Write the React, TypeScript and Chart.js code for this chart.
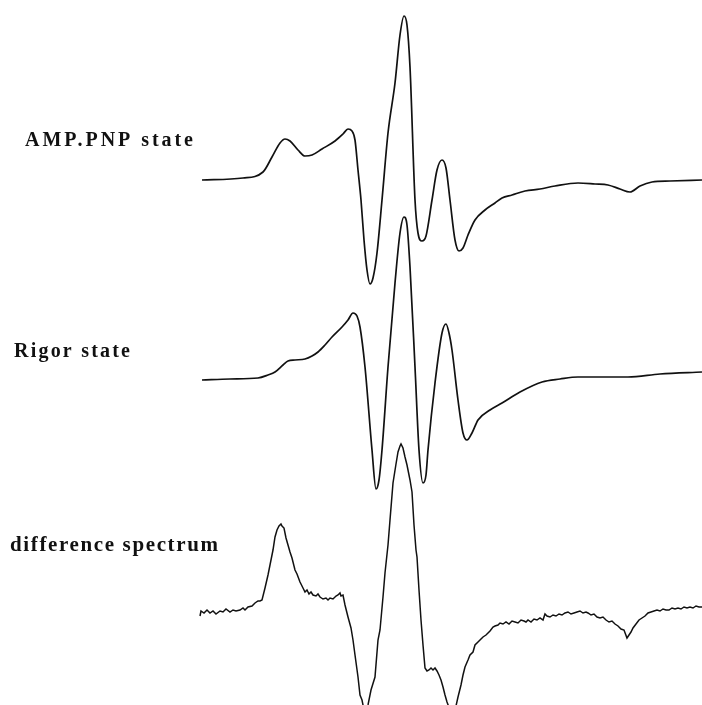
import React, { useEffect, useRef } from "react";
import { Chart, registerables } from "chart.js";

Chart.register(...registerables);

// Field positions (arbitrary field units) and signal amplitudes (arbitrary units, baseline = 0)
const ampField = [2, 43, 63, 72, 80, 85, 90, 98, 105, 112, 122, 135, 143, 148, 152, 155, 158, 161, 164, 167, 170, 173, 177, 182, 188, 195, 200, 204, 207, 210, 215, 218, 222, 226, 232, 237, 242, 246, 250, 255, 259, 263, 268, 275, 285, 295, 302, 312, 325, 340, 355, 378, 395, 408, 420, 430, 440, 452, 470, 502];
const ampSignal = [0, 2, 8, 23, 37, 41, 39, 30, 24, 25, 31, 39, 46, 51, 49, 40, 10, -20, -60, -90, -104, -98, -73, -20, 47, 97, 145, 164, 155, 113, -20, -53, -61, -56, -20, 10, 20, 12, -20, -60, -71, -68, -55, -40, -30, -23, -18, -15, -11, -9, -6, -3, -4, -5, -9, -12, -6, -2, -1, 0];

const rigorField = [2, 30, 58, 68, 75, 83, 88, 95, 105, 112, 118, 125, 132, 142, 148, 153, 157, 160, 165, 172, 176, 179, 182, 188, 195, 200, 204, 207, 210, 215, 219, 223, 226, 228, 235, 242, 246, 249, 252, 258, 263, 267, 272, 278, 290, 302, 320, 342, 360, 378, 400, 428, 460, 502];
const rigorSignal = [0, 1, 2, 5, 8, 15, 19, 20, 21, 24, 28, 35, 43, 53, 60, 67, 64, 53, 13, -70, -109, -100, -70, 13, 97, 147, 163, 155, 113, 13, -70, -103, -95, -70, -3, 47, 56, 47, 30, -20, -53, -60, -53, -40, -30, -23, -12, -2, 1, 3, 3, 3, 6, 8];

const diffField = [0, 1, 4, 7, 10, 13, 16, 20, 23, 26, 30, 33, 36, 40, 43, 45, 48, 52, 55, 58, 60, 62, 65, 68, 70, 73, 75, 77, 79, 81, 82, 84, 86, 88, 90, 92, 95, 97, 100, 103, 105, 107, 109, 111, 113, 116, 118, 120, 123, 126, 128, 130, 133, 136, 138, 140, 141, 143, 145, 148, 151, 153, 155, 158, 160, 162, 164, 166, 168, 171, 175, 178, 180, 183, 185, 188, 190, 193, 196, 198, 200, 201, 203, 205, 207, 210, 212, 214, 216, 217, 219, 221, 223, 225, 227, 229, 231, 233, 235, 237, 239, 241, 243, 245, 247, 250, 253, 256, 258, 261, 263, 265, 268, 270, 273, 275, 278, 280, 283, 286, 288, 290, 293, 295, 298, 300, 303, 306, 309, 312, 315, 318, 321, 324, 326, 328, 331, 334, 337, 340, 343, 345, 347, 350, 353, 356, 359, 362, 365, 368, 371, 374, 377, 380, 383, 386, 388, 391, 394, 397, 400, 403, 406, 409, 412, 415, 418, 421, 424, 427, 429, 431, 433, 436, 439, 442, 445, 448, 451, 454, 457, 460, 463, 466, 469, 472, 475, 478, 481, 484, 487, 490, 493, 496, 499, 502];
const diffSignal = [-6, -1, -3, 0, -3, -1, -4, -1, -2, 1, -2, 0, -1, 0, 2, 0, 3, 4, 7, 9, 9, 10, 22, 35, 45, 60, 73, 80, 84, 86, 84, 82, 72, 65, 58, 52, 40, 36, 28, 22, 18, 20, 16, 18, 15, 14, 16, 13, 11, 12, 10, 12, 11, 14, 15, 17, 14, 15, 5, -7, -18, -30, -45, -67, -85, -90, -100, -102, -95, -80, -67, -30, -20, 13, 37, 65, 90, 127, 146, 158, 164, 166, 162, 153, 145, 130, 118, 85, 60, 53, 20, -10, -35, -58, -61, -60, -58, -60, -58, -61, -65, -70, -77, -85, -92, -100, -102, -96, -87, -75, -65, -57, -50, -45, -42, -35, -32, -30, -27, -25, -23, -21, -17, -16, -15, -13, -14, -12, -14, -11, -12, -13, -10, -11, -12, -10, -12, -9, -10, -8, -10, -4, -6, -7, -5, -6, -4, -5, -3, -2, -4, -3, -2, -1, -3, -2, -3, -5, -4, -7, -8, -7, -10, -12, -11, -14, -16, -19, -20, -28, -25, -22, -18, -14, -10, -8, -6, -3, -2, -1, 0, -1, 1, 0, 0, 2, 1, 2, 1, 3, 2, 3, 2, 4, 3, 3];

const traceNames = ["AMP.PNP state", "Rigor state", "difference spectrum"];

// Layout (vertical stacking offsets and label placement)
const OFFSETS = [525, 325, 95];
const LABEL_POS = [
  { x: 25, y: 146, size: 20, width: 168 },
  { x: 14, y: 357, size: 20, width: 116 },
  { x: 10, y: 551, size: 21, width: 208 },
];

function toPoints(xs: number[], ys: number[], off: number) {
  return xs.map((x, i) => ({ x, y: ys[i] + off }));
}

const labelPlugin = {
  id: "traceLabels",
  afterDraw(chart: any) {
    const ctx = chart.ctx as CanvasRenderingContext2D;
    ctx.save();
    ctx.fillStyle = "#111";
    ctx.textBaseline = "alphabetic";
    traceNames.forEach((t, i) => {
      const p = LABEL_POS[i];
      ctx.font = `bold ${p.size}px "Liberation Serif", "Times New Roman", serif`;
      (ctx as any).letterSpacing = "0px";
      const w = ctx.measureText(t).width;
      const sp = Math.max(0, (p.width - w) / (t.length - 1));
      (ctx as any).letterSpacing = `${sp}px`;
      ctx.fillText(t, p.x, p.y);
    });
    ctx.restore();
  },
};

export default function App() {
  const ref = useRef<HTMLCanvasElement | null>(null);
  useEffect(() => {
    if (!ref.current) return;
    const chart = new Chart(ref.current, {
      type: "line",
      data: {
        datasets: [
          {
            label: traceNames[0],
            data: toPoints(ampField, ampSignal, OFFSETS[0]),
            borderColor: "#111",
            borderWidth: 1.7,
            pointRadius: 0,
            cubicInterpolationMode: "monotone",
          },
          {
            label: traceNames[1],
            data: toPoints(rigorField, rigorSignal, OFFSETS[1]),
            borderColor: "#111",
            borderWidth: 1.7,
            pointRadius: 0,
            cubicInterpolationMode: "monotone",
          },
          {
            label: traceNames[2],
            data: toPoints(diffField, diffSignal, OFFSETS[2]),
            borderColor: "#111",
            borderWidth: 1.5,
            pointRadius: 0,
            tension: 0,
          },
        ],
      },
      options: {
        responsive: false,
        animation: false,
        events: [],
        layout: { padding: 0 },
        plugins: { legend: { display: false }, tooltip: { enabled: false }, title: { display: false } },
        scales: {
          x: { type: "linear", min: -200, max: 502, display: false },
          y: { type: "linear", min: 0, max: 705, display: false },
        },
      },
      plugins: [labelPlugin],
    });
    return () => chart.destroy();
  }, []);
  return (
    <div style={{ position: "absolute", left: 0, top: 0, width: 702, height: 705, background: "#fff" }}>
      <canvas ref={ref} width={702} height={705} />
    </div>
  );
}
